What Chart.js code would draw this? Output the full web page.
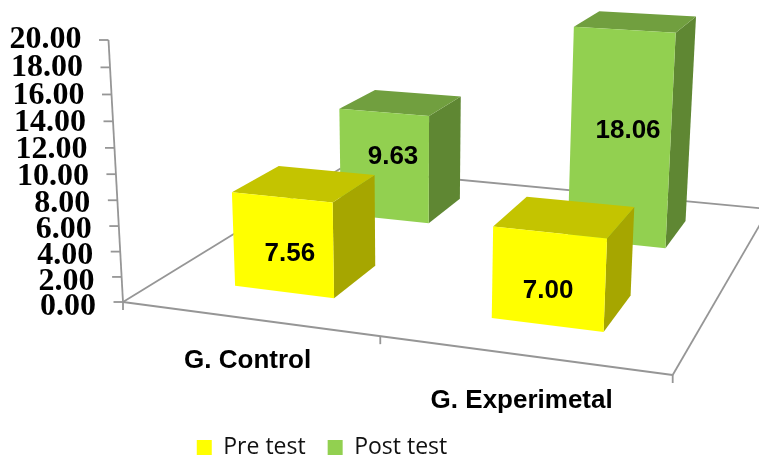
<!DOCTYPE html>
<html>
<head>
<meta charset="utf-8">
<title>Pre test / Post test</title>
<script src="https://cdn.jsdelivr.net/npm/chart.js@4"></script>
<style>
    html, body { margin: 0; padding: 0; background: #fff; }
    canvas { display: block; }
</style>
</head>
<body>
<canvas id="chart" width="759" height="455"></canvas>
<script>
const categories = ["G. Control", "G. Experimetal"];
const preTest = [7.56, 7.00];
const postTest = [9.63, 18.06];
const yTickLabels = ["0.00", "2.00", "4.00", "6.00", "8.00", "10.00", "12.00", "14.00", "16.00", "18.00", "20.00"];

// look of the 3d box: corners of the floor and top of the value axis, in canvas pixels
const floorLeft = [123, 302];
const floorFront = [672.7, 375];
const floorRight = [769, 209];
const floorBack = [340.5, 168.5];
const axisTop = [108.5, 40];
const riseW = -0.0476;
const depthRows = 2;
const depthFill = 0.4;

const lineColor = "#969696";
const faceColors = [
    { front: "#ffff00", top: "#c4c400", side: "#a6a600" },
    { front: "#92d050", top: "#719f3f", side: "#5f8733" },
];
// small moves of the value labels off the middle of the front face
const labelShift = [
    [[7, 9], [0, 12]],
    [[9, -9], [8, -8]],
];
const categoryDrop = [42.5, 46];

function makeProjection() {
    const [ax, ay] = floorLeft, [bx, by] = floorFront, [cx, cy] = floorRight, [dx, dy] = floorBack;
    const dx1 = bx - cx, dx2 = dx - cx, sx = ax - bx + cx - dx;
    const dy1 = by - cy, dy2 = dy - cy, sy = ay - by + cy - dy;
    const den = dx1 * dy2 - dx2 * dy1;
    const g = (sx * dy2 - dx2 * sy) / den;
    const h = (dx1 * sy - sx * dy1) / den;
    const a = bx - ax + g * bx, b = dx - ax + h * dx;
    const d = by - ay + g * by, e = dy - ay + h * dy;
    const kx = axisTop[0] * (1 + riseW) - ax;
    const ky = axisTop[1] * (1 + riseW) - ay;
    // u along the front edge, v into the depth, z up the value axis, all 0..1
    return (u, v, z) => {
        const w = g * u + h * v + 1 + riseW * z;
        return [(a * u + b * v + ax + kx * z) / w, (d * u + e * v + ay + ky * z) / w];
    };
}
const project = makeProjection();

function fillFace(ctx, points, color) {
    ctx.beginPath();
    points.forEach((p, i) => (i ? ctx.lineTo(p[0], p[1]) : ctx.moveTo(p[0], p[1])));
    ctx.closePath();
    ctx.fillStyle = color;
    ctx.fill();
}

function strokeLine(ctx, from, to) {
    ctx.beginPath();
    ctx.moveTo(from[0], from[1]);
    ctx.lineTo(to[0], to[1]);
    ctx.stroke();
}

function barCorners(chart, bar, datasetIndex) {
    const area = chart.chartArea;
    const u0 = (bar.x - bar.width / 2 - area.left) / area.width;
    const u1 = (bar.x + bar.width / 2 - area.left) / area.width;
    const v0 = (datasetIndex + 0.5 - depthFill / 2) / depthRows;
    const v1 = (datasetIndex + 0.5 + depthFill / 2) / depthRows;
    const z = (chart.scales.y.getPixelForValue(0) - bar.y) / area.height;
    return { u0, u1, v0, v1, z };
}

class Bar3dController extends Chart.BarController {
    draw() {
        const chart = this.chart;
        const ctx = chart.ctx;
        const colors = faceColors[this.index];
        this.getMeta().data.forEach((bar) => {
            const { u0, u1, v0, v1, z } = barCorners(chart, bar, this.index);
            fillFace(ctx, [project(u1, v0, 0), project(u1, v1, 0), project(u1, v1, z), project(u1, v0, z)], colors.side);
            fillFace(ctx, [project(u0, v0, z), project(u1, v0, z), project(u1, v1, z), project(u0, v1, z)], colors.top);
            fillFace(ctx, [project(u0, v0, 0), project(u1, v0, 0), project(u1, v0, z), project(u0, v0, z)], colors.front);
        });
    }
}
Bar3dController.id = "bar3d";
Bar3dController.defaults = Chart.BarController.defaults;
Bar3dController.overrides = Chart.BarController.overrides;
Chart.register(Bar3dController);

const boxPlugin = {
    id: "box3d",
    beforeDatasetsDraw(chart) {
        const ctx = chart.ctx;
        const yScale = chart.scales.y;
        const area = chart.chartArea;

        ctx.save();
        ctx.strokeStyle = lineColor;
        ctx.lineWidth = 1.8;
        strokeLine(ctx, floorLeft, floorFront);
        strokeLine(ctx, floorFront, floorRight);
        strokeLine(ctx, floorRight, floorBack);
        strokeLine(ctx, floorBack, floorLeft);
        strokeLine(ctx, project(0, 0, 0), project(0, 0, 1));

        ctx.fillStyle = "#000";
        ctx.font = "bold 32px 'Liberation Serif'";
        ctx.textAlign = "right";
        ctx.textBaseline = "middle";
        yScale.ticks.forEach((tick) => {
            const z = (yScale.bottom - yScale.getPixelForValue(tick.value)) / area.height;
            const p = project(0, 0, z);
            strokeLine(ctx, p, [p[0] - 9.5, p[1]]);
            ctx.fillText(tick.label, p[0] - 27, p[1] + 5 - 5 * z);
        });

        [0, 0.5, 1].forEach((u) => {
            const p = project(u, 0, 0);
            strokeLine(ctx, p, [p[0], p[1] + 8]);
        });
        ctx.restore();
    },
    afterDatasetsDraw(chart) {
        const ctx = chart.ctx;
        ctx.save();
        ctx.fillStyle = "#000";
        ctx.font = "bold 26px 'Liberation Sans'";
        ctx.textAlign = "center";
        ctx.textBaseline = "middle";

        chart.data.datasets.forEach((dataset, i) => {
            chart.getDatasetMeta(i).data.forEach((bar, j) => {
                const { u0, u1, v0, z } = barCorners(chart, bar, i);
                const p = project((u0 + u1) / 2, v0, z / 2);
                ctx.fillText(dataset.data[j].toFixed(2), p[0] + labelShift[i][j][0], p[1] + labelShift[i][j][1]);
            });
        });

        chart.scales.x.getLabels().forEach((label, j) => {
            const u = (chart.scales.x.getPixelForValue(j) - chart.chartArea.left) / chart.chartArea.width;
            const p = project(u, 0, 0);
            ctx.fillText(label, p[0], p[1] + categoryDrop[j]);
        });
        ctx.restore();
    },
};

new Chart(document.getElementById("chart"), {
    type: "bar3d",
    data: {
        labels: categories,
        datasets: [
            { label: "Pre test", data: preTest, backgroundColor: faceColors[0].front, grouped: false, categoryPercentage: 0.4, barPercentage: 1, clip: false },
            { label: "Post test", data: postTest, backgroundColor: faceColors[1].front, grouped: false, categoryPercentage: 0.4, barPercentage: 1, clip: false },
        ],
    },
    options: {
        responsive: false,
        animation: false,
        devicePixelRatio: 1,
        layout: { padding: { top: 40, right: 115, bottom: -14, left: 0 } },
        scales: {
            x: {
                ticks: { display: false },
                grid: { display: false },
                border: { display: false },
                afterFit(scale) { scale.height = 100; },
            },
            y: {
                min: 0,
                max: 20,
                ticks: { display: false, stepSize: 2, callback: (value, i) => yTickLabels[i] },
                grid: { display: false },
                border: { display: false },
                afterFit(scale) { scale.width = 100; },
            },
        },
        plugins: {
            tooltip: { enabled: false },
            legend: {
                position: "bottom",
                labels: {
                    boxWidth: 15,
                    boxHeight: 15,
                    padding: 22,
                    color: "#111",
                    font: { family: "'Open Sans'", size: 23 },
                },
            },
        },
    },
    plugins: [boxPlugin],
});
</script>
</body>
</html>
